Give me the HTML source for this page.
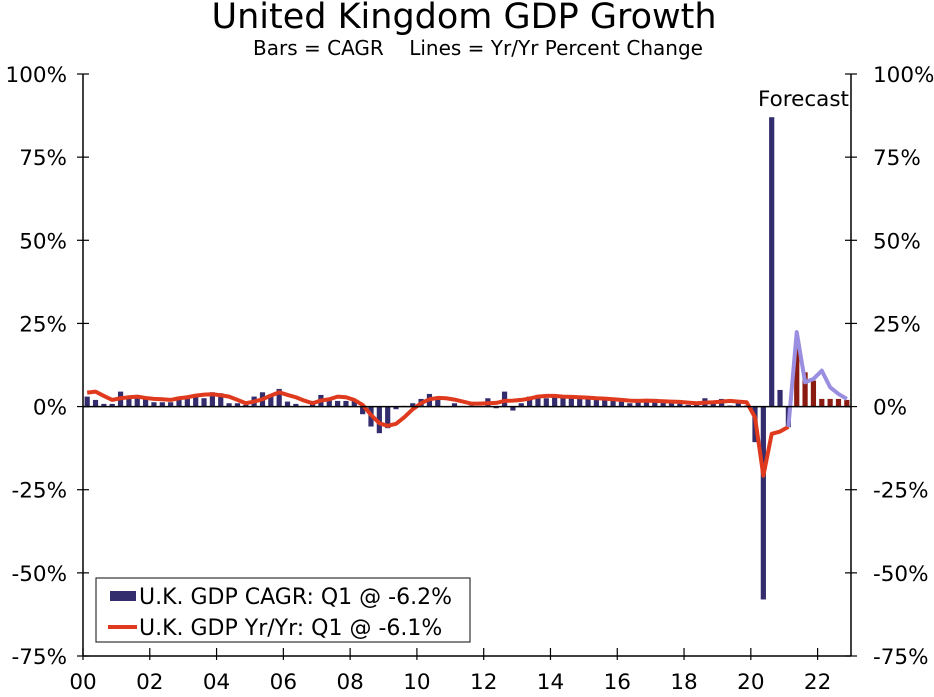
<!DOCTYPE html>
<html><head><meta charset="utf-8"><style>
body{margin:0;background:#fff;}
svg text{font-family:"DejaVu Sans","Liberation Sans",sans-serif;fill:#000;}
</style></head><body>
<svg id="chart" width="934" height="692" xmlns="http://www.w3.org/2000/svg">
<text x="464" y="28" font-size="35" text-anchor="middle">United Kingdom GDP Growth</text>
<text x="478" y="55" font-size="20" text-anchor="middle" xml:space="preserve">Bars = CAGR    Lines = Yr/Yr Percent Change</text>
<g id="grid"></g>
<g id="bars"></g>
<g id="lines"></g>
<g id="axes"></g>
<text x="849" y="106" font-size="21.5" text-anchor="end">Forecast</text>
<g>
<rect x="96" y="578" width="374" height="64" fill="#fff" stroke="#333" stroke-width="1.2"/>
<rect x="110" y="591" width="26" height="10" fill="#332d6e"/>
<text x="139" y="604" font-size="22">U.K. GDP CAGR: Q1 @ -6.2%</text>
<line x1="108" y1="627" x2="137" y2="627" stroke="#e03a1e" stroke-width="4"/>
<text x="139" y="635" font-size="22">U.K. GDP Yr/Yr: Q1 @ -6.1%</text>
</g>
</svg>
<script>
const cagr=[3.0,2.0,0.8,0.8, 4.5,3.0,3.0,2.2, 1.3,1.3,1.3,2.0, 3.0,3.0,2.5,4.3, 4.0,1.0,1.0,0.5, 3.0,4.3,3.7,5.3, 1.5,0.8,0.2,1.7, 3.5,2.0,1.7,1.7, 1.7,-2.3,-6.0,-8.0, -6.5,-0.8,0.2,1.0, 2.3,3.8,2.0,-0.2, 1.0,0.2,0.3,0.1, 2.5,-0.5,4.5,-1.2, 1.0,3.0,3.5,2.5, 2.8,3.0,2.8,2.5, 2.5,2.0,2.0,2.0, 1.5,1.0,1.8,2.3, 2.3,1.2,1.5,1.5, 0.5,1.5,2.5,0.8, 2.3,0.3,1.8,0.3, -10.7,-58,87,5.0, -6.2,18,10.3,7.8, 2.3,2.3,2.3,2.0];
const forecastStart=85;
const yoy=[4.2,4.5,3.2,2.0, 2.5,2.8,3.0,2.6, 2.3,2.2,2.0,2.5, 2.8,3.3,3.6,3.7, 3.4,3.0,2.0,1.0, 1.5,2.2,3.3,4.3, 3.5,2.8,1.8,1.0, 1.8,2.2,3.0,2.8, 2.0,0.5,-2.5,-5.0, -5.8,-5.2,-3.2,-0.8, 1.0,2.2,2.6,2.5, 2.1,1.5,0.9,0.9, 1.0,1.1,1.7,1.8, 2.0,2.4,3.0,3.2, 3.2,3.0,2.9,2.8, 2.7,2.5,2.4,2.2, 2.0,1.8,1.7,1.8, 1.7,1.6,1.5,1.4, 1.2,1.0,1.2,1.3, 1.5,1.7,1.5,1.3, -3.2,-20.8,-8.2,-7.5, -6.1];
const yoyForecast=[-6.1,22.4,7.3,8.3,10.8,5.8,3.8,2.3];
const yTicks=[100,75,50,25,0,-25,-50,-75];
const xLabels=["00","02","04","06","08","10","12","14","16","18","20","22"];
const NS="http://www.w3.org/2000/svg";
const L=83,R=851,T=74,B=656,N=92;
const qw=(R-L)/N;
function y(v){return T+(100-v)/175*(B-T);}
function xc(i){return L+qw*(i+0.5);}
function mk(tag,attrs,parent){const e=document.createElementNS(NS,tag);for(const k in attrs)e.setAttribute(k,attrs[k]);parent.appendChild(e);return e;}
const bars=document.getElementById('bars'),lines=document.getElementById('lines'),axes=document.getElementById('axes');
cagr.forEach((v,i)=>{
 const r=mk('rect',{x:xc(i)-2.6,y:Math.min(y(v),y(0)),width:5.2,height:Math.abs(y(v)-y(0)),fill:i>=forecastStart?'#8b1a10':'#332d6e'},bars);
 
 
});
const z=mk('line',{x1:L,x2:R,y1:y(0),y2:y(0),stroke:'#000','stroke-width':1.5},axes);


const p1=mk('polyline',{points:yoy.map((v,i)=>xc(i)+','+y(v)).join(' '),fill:'none',stroke:'#e03a1e','stroke-width':4,'stroke-linejoin':'round'},lines);


const off=yoy.length-1;
const p2=mk('polyline',{points:yoyForecast.map((v,i)=>xc(i+off)+','+y(v)).join(' '),fill:'none',stroke:'#9a8ee0','stroke-width':4,'stroke-linejoin':'round'},lines);


[[L,'left-axis'],[R,'right-axis']].forEach(([x,n])=>{
 const a=mk('line',{x1:x,x2:x,y1:T,y2:B,stroke:'#000','stroke-width':1.5},axes);
 
 
});
const bx=mk('line',{x1:L,x2:R,y1:B,y2:B,stroke:'#000','stroke-width':1.5},axes);


yTicks.forEach(v=>{
 mk('line',{x1:L-6,x2:L+6,y1:y(v),y2:y(v),stroke:'#000','stroke-width':1.2},axes);
 mk('line',{x1:R-6,x2:R+6,y1:y(v),y2:y(v),stroke:'#000','stroke-width':1.2},axes);
 const t1=mk('text',{x:67,y:y(v)+8,'font-size':21.5,'text-anchor':'end'},axes);t1.textContent=v+'%';
 
 
 const t2=mk('text',{x:873,y:y(v)+8,'font-size':21.5},axes);t2.textContent=v+'%';
 
 
});
xLabels.forEach((s,k)=>{
 const x=L+qw*8*k;
 mk('line',{x1:x,x2:x,y1:B-8,y2:B+4,stroke:'#000','stroke-width':1.2},axes);
 const t=mk('text',{x:x,y:689,'font-size':21.5,'text-anchor':'middle'},axes);t.textContent=s;
 
 
});
</script>
</body></html>
